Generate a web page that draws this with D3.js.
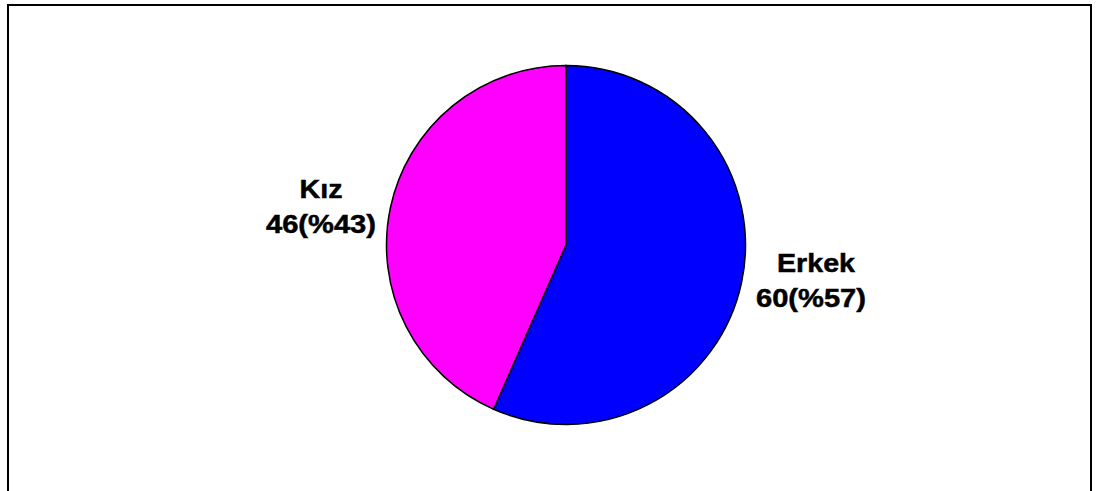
<!DOCTYPE html>
<html>
<head>
<meta charset="utf-8">
<script src="https://cdn.jsdelivr.net/npm/d3@7"></script>
<style>
  html, body { margin: 0; padding: 0; background: #fff; }
  svg { display: block; }
</style>
</head>
<body>
<svg id="chart" width="1097" height="491"></svg>
<script>
const categories = ["Erkek", "Kız"];
const values = [60, 46];
const percents = ["%57", "%43"];
const colors = ["#0000FF", "#FF00FF"];

const svg = d3.select("#chart");

// outer frame
svg.append("rect")
  .attr("x", 8).attr("y", 5)
  .attr("width", 1083).attr("height", 500)
  .attr("fill", "none").attr("stroke", "#000").attr("stroke-width", 2);

const cx = 566, cy = 245, r = 179.5;
const pie = d3.pie().sort(null).value(d => d)(values);
const arc = d3.arc().innerRadius(0).outerRadius(r);

const g = svg.append("g").attr("transform", `translate(${cx},${cy})`);
g.selectAll("path").data(pie).enter().append("path")
  .attr("d", arc)
  .attr("fill", (d, i) => colors[i])
  .attr("stroke", "#000")
  .attr("stroke-width", 1.5)
  .attr("stroke-linejoin", "miter");

// labels
const labelPos = [
  { x: 816, y1: 272, y2: 307 },
  { x: 321, y1: 198, y2: 233 }
];
const lab = svg.append("g")
  .attr("font-family", "Arial, 'Liberation Sans', sans-serif")
  .attr("font-weight", "bold")
  .attr("font-size", 26)
  .attr("fill", "#000")
  .attr("stroke", "#000")
  .attr("stroke-width", 0.5)
  .attr("text-anchor", "middle");

categories.forEach((c, i) => {
  const p = labelPos[i];
  lab.append("text")
    .attr("transform", `translate(${p.x},${p.y1}) scale(1.1,1)`)
    .text(c);
  lab.append("text")
    .attr("transform", `translate(${p.x - (i === 0 ? 5 : 0)},${p.y2}) scale(1.12,1)`)
    .text(values[i] + "(" + percents[i] + ")");
});
</script>
</body>
</html>
